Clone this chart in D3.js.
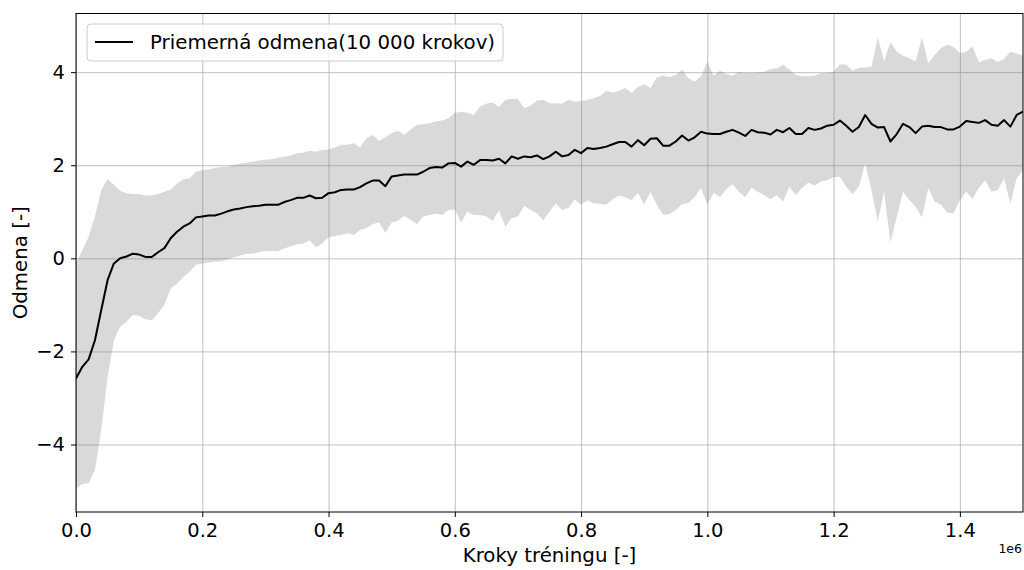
<!DOCTYPE html>
<html>
<head>
<meta charset="utf-8">
<script src="https://cdn.jsdelivr.net/npm/d3@7/dist/d3.min.js"></script>
<style>
  html, body { margin: 0; padding: 0; background: #fff; }
  svg { display: block; font-family: "DejaVu Sans", sans-serif; }
</style>
</head>
<body>
<svg id="chart" width="1024" height="570"></svg>
<script>
// ---- data (one point every 10 000 training steps) ----
const stepSize = 10000;
const meanReward = [
  -2.58,-2.33,-2.17,-1.76,-1.11,-0.47,-0.11,0.00,0.04,0.10,
  0.08,0.03,0.03,0.13,0.22,0.43,0.57,0.68,0.75,0.88,
  0.90,0.92,0.92,0.96,1.01,1.05,1.07,1.10,1.12,1.13,
  1.15,1.15,1.15,1.21,1.25,1.30,1.30,1.35,1.29,1.30,
  1.40,1.42,1.47,1.48,1.48,1.53,1.61,1.67,1.67,1.55,
  1.76,1.78,1.80,1.80,1.80,1.86,1.94,1.96,1.95,2.04,
  2.05,1.97,2.08,2.01,2.11,2.11,2.10,2.14,2.04,2.19,
  2.14,2.19,2.17,2.21,2.13,2.19,2.29,2.19,2.22,2.33,
  2.26,2.37,2.35,2.37,2.40,2.45,2.50,2.50,2.40,2.54,
  2.43,2.57,2.58,2.42,2.42,2.51,2.64,2.53,2.60,2.72,
  2.68,2.67,2.67,2.72,2.76,2.70,2.63,2.76,2.71,2.70,
  2.66,2.76,2.71,2.80,2.67,2.67,2.80,2.76,2.79,2.85,
  2.87,2.96,2.85,2.72,2.82,3.08,2.89,2.81,2.82,2.51,
  2.67,2.89,2.82,2.69,2.83,2.85,2.82,2.82,2.77,2.77,
  2.83,2.95,2.93,2.91,2.97,2.87,2.85,2.97,2.83,3.08,
  3.15
];
const upperBound = [
  -0.11,0.18,0.46,0.90,1.47,1.70,1.58,1.45,1.40,1.38,
  1.38,1.35,1.35,1.38,1.43,1.48,1.60,1.70,1.72,1.86,
  1.90,1.91,1.94,1.96,1.97,2.01,2.03,2.06,2.08,2.10,
  2.12,2.13,2.16,2.18,2.21,2.26,2.27,2.31,2.29,2.33,
  2.34,2.38,2.44,2.44,2.47,2.38,2.58,2.65,2.52,2.60,
  2.69,2.74,2.65,2.77,2.87,2.88,2.90,2.94,2.96,3.01,
  3.12,3.15,3.13,3.08,3.26,3.32,3.35,3.25,3.40,3.43,
  3.42,3.23,3.28,3.39,3.40,3.33,3.33,3.32,3.40,3.37,
  3.38,3.40,3.44,3.49,3.60,3.56,3.60,3.66,3.55,3.68,
  3.74,3.66,3.89,3.93,3.89,3.94,4.05,3.87,3.80,3.91,
  4.23,3.92,4.03,3.96,3.92,4.01,3.98,3.98,4.00,4.01,
  4.06,4.08,4.16,4.05,3.94,3.91,3.91,3.92,3.98,3.98,
  4.01,4.17,4.16,4.03,4.09,4.10,4.12,4.75,4.23,4.64,
  4.44,4.35,4.30,4.23,4.75,4.19,4.37,4.52,4.59,4.54,
  4.41,4.44,4.55,4.21,4.26,4.30,4.22,4.28,4.44,4.40,
  4.35
];
const lowerBound = [
  -4.95,-4.85,-4.83,-4.55,-3.69,-2.55,-1.76,-1.47,-1.36,-1.21,
  -1.24,-1.31,-1.33,-1.18,-1.00,-0.65,-0.54,-0.40,-0.29,-0.14,
  -0.11,-0.09,-0.07,-0.07,-0.02,0.02,0.06,0.10,0.10,0.13,
  0.16,0.16,0.15,0.21,0.26,0.30,0.32,0.39,0.24,0.32,
  0.46,0.48,0.50,0.54,0.50,0.61,0.65,0.74,0.77,0.55,
  0.77,0.81,0.91,0.83,0.74,0.90,0.93,0.96,0.93,1.04,
  1.05,0.77,1.00,0.93,0.93,0.90,0.80,1.04,0.68,0.86,
  0.90,1.13,1.04,0.97,0.82,1.00,1.18,1.04,1.08,1.27,
  1.15,1.25,1.18,1.17,1.15,1.27,1.35,1.31,1.25,1.41,
  1.15,1.43,1.15,0.93,0.95,1.04,1.16,1.19,1.32,1.51,
  1.15,1.41,1.32,1.49,1.59,1.43,1.31,1.52,1.43,1.36,
  1.27,1.36,1.22,1.54,1.36,1.51,1.63,1.56,1.65,1.68,
  1.74,1.75,1.54,1.38,1.54,2.04,1.47,0.79,1.43,0.34,
  0.89,1.43,1.25,1.11,0.88,1.51,1.22,1.15,0.98,0.97,
  1.25,1.43,1.28,1.51,1.68,1.43,1.47,1.72,1.18,1.72,
  1.90
];
const xTicks = [0, 200000, 400000, 600000, 800000, 1000000, 1200000, 1400000];
const xTickLabels = ["0.0","0.2","0.4","0.6","0.8","1.0","1.2","1.4"];
const yTicks = [-4, -2, 0, 2, 4];
const yTickLabels = ["\u22124","\u22122","0","2","4"];
const legendLabel = "Priemerná odmena(10 000 krokov)";
const xLabel = "Kroky tréningu [-]";
const yLabel = "Odmena [-]";
const offsetLabel = "1e6";

// ---- layout ----
const svg = d3.select("#chart");
const L = 76, R = 1023, T = 13.5, B = 512;
const x = d3.scaleLinear().domain([0, 1500000]).range([L, R]);
const y = d3.scaleLinear().domain([-5.45, 5.26]).range([B, T]);

const data = meanReward.map((m, i) => ({ s: i * stepSize, m, lo: lowerBound[i], hi: upperBound[i] }));

// grid
const gx = svg.append("g").attr("transform", `translate(0,${B})`)
  .call(d3.axisBottom(x).tickValues(xTicks).tickSize(-(B - T)).tickFormat(""));
gx.select(".domain").remove();
gx.selectAll("line").attr("stroke", "#b0b0b0").attr("stroke-width", 0.8);
const gy = svg.append("g").attr("transform", `translate(${L},0)`)
  .call(d3.axisLeft(y).tickValues(yTicks).tickSize(-(R - L)).tickFormat(""));
gy.select(".domain").remove();
gy.selectAll("line").attr("stroke", "#b0b0b0").attr("stroke-width", 0.8);

// clip
svg.append("clipPath").attr("id", "clip").append("rect")
  .attr("x", L).attr("y", T).attr("width", R - L).attr("height", B - T);
const plot = svg.append("g").attr("clip-path", "url(#clip)");

// band
plot.append("path").datum(data)
  .attr("d", d3.area().x(d => x(d.s)).y0(d => y(d.lo)).y1(d => y(d.hi)))
  .attr("fill", "#808080").attr("fill-opacity", 0.3).attr("stroke", "none");

// mean line
plot.append("path").datum(data)
  .attr("d", d3.line().x(d => x(d.s)).y(d => y(d.m)))
  .attr("fill", "none").attr("stroke", "#000").attr("stroke-width", 2)
  .attr("stroke-linejoin", "round");

// frame
svg.append("rect").attr("x", L).attr("y", T).attr("width", R - L).attr("height", B - T)
  .attr("fill", "none").attr("stroke", "#000").attr("stroke-width", 1);

// axes ticks
const ax = svg.append("g").attr("transform", `translate(0,${B})`)
  .call(d3.axisBottom(x).tickValues(xTicks).tickSize(5).tickPadding(6)
    .tickFormat((d, i) => xTickLabels[i]));
ax.select(".domain").remove();
ax.selectAll("line").attr("stroke", "#000").attr("stroke-width", 1);
ax.selectAll("text").attr("font-size", 19.5).attr("fill", "#000")
  .attr("font-family", "DejaVu Sans");

const ay = svg.append("g").attr("transform", `translate(${L},0)`)
  .call(d3.axisLeft(y).tickValues(yTicks).tickSize(5).tickPadding(6)
    .tickFormat((d, i) => yTickLabels[i]));
ay.select(".domain").remove();
ay.selectAll("line").attr("stroke", "#000").attr("stroke-width", 1);
ay.selectAll("text").attr("font-size", 19.5).attr("fill", "#000")
  .attr("font-family", "DejaVu Sans");

// labels
svg.append("text").attr("x", (L + R) / 2).attr("y", 562)
  .attr("text-anchor", "middle").attr("font-size", 19.8).text(xLabel);
svg.append("text").attr("transform", `translate(27,${(T + B) / 2}) rotate(-90)`)
  .attr("text-anchor", "middle").attr("font-size", 19.8).text(yLabel);
svg.append("text").attr("x", 1022).attr("y", 553)
  .attr("text-anchor", "end").attr("font-size", 12.5).text(offsetLabel);

// legend
const lg = svg.append("g");
lg.append("rect").attr("x", 87).attr("y", 24).attr("width", 416).attr("height", 37)
  .attr("rx", 4).attr("fill", "#fff").attr("fill-opacity", 0.8)
  .attr("stroke", "#cccccc").attr("stroke-width", 1);
lg.append("line").attr("x1", 95).attr("x2", 133).attr("y1", 42).attr("y2", 42)
  .attr("stroke", "#000").attr("stroke-width", 2);
lg.append("text").attr("x", 150).attr("y", 49).attr("font-size", 19.8).text(legendLabel);
</script>
</body>
</html>
